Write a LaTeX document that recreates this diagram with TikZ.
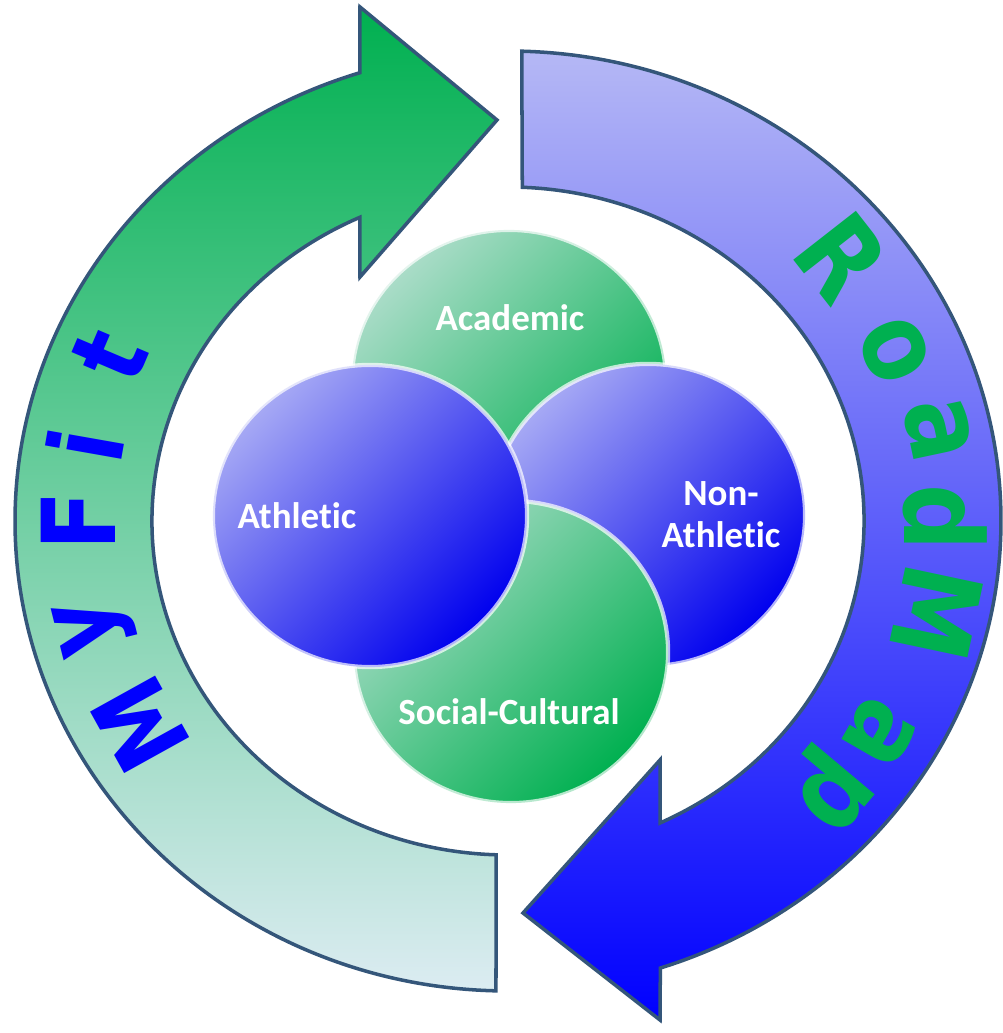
\documentclass[tikz,border=0pt]{standalone}
\usepackage{fontspec}
\usepackage{tikz}
\usetikzlibrary{shapes.geometric}

\newfontfamily\arcfont{DejaVu Sans}[FakeStretch=0.85]
\newfontfamily\ballfont{Carlito}[Ligatures=NoCommon]

\definecolor{arrowgreen}{RGB}{0,176,80}
\definecolor{midgreen}{RGB}{88,192,144}
\definecolor{tailgreen}{RGB}{220,236,242}
\definecolor{arrowblue}{RGB}{0,0,255}
\definecolor{midblue}{RGB}{96,100,243}
\definecolor{tailblue}{RGB}{181,184,245}
\definecolor{rimline}{RGB}{52,86,122}
\definecolor{lightball}{RGB}{166,169,244}
\definecolor{midball}{RGB}{62,64,246}
\definecolor{darkball}{RGB}{0,0,238}
\definecolor{lightgball}{RGB}{170,220,200}
\definecolor{midgball}{RGB}{80,192,140}
\definecolor{darkgball}{RGB}{0,176,80}

\begin{document}
\begin{tikzpicture}[x=0.01cm, y=0.01cm,
    band/.style={draw=rimline, line width=1pt, line join=miter},
    ball/.style={ellipse, minimum width=3.14cm, minimum height=3.02cm, inner sep=0pt,
        draw=white, draw opacity=0.7, line width=1.2pt},
    blueball/.style={ball, top color=lightball, middle color=midball, bottom color=darkball, shading angle=45},
    greenball/.style={ball, top color=lightgball, middle color=midgball, bottom color=darkgball, shading angle=45},
    balltext/.style={text=white, align=center, inner sep=0pt,
        font=\ballfont\bfseries\fontsize{10.5}{12}\selectfont},
    arcletter/.style={inner sep=0pt, font=\arcfont\bfseries\fontsize{29}{29}\selectfont}]
    \useasboundingbox (0,0) rectangle (1002,1033);
    \coordinate (c) at (508,512);

    % MyFit arrow
    \draw[band, top color=arrowgreen, middle color=midgreen, bottom color=tailgreen]
        ([shift={(c)}]268.6:493 and 470) arc[start angle=268.6, end angle=107.5, x radius=493, y radius=470]
        -- (360,1026) -- (497,913) -- (360,756)
        -- ([shift={(c)}]114.6:356 and 334) arc[start angle=114.6, end angle=268.1, x radius=356, y radius=334]
        -- cycle;

    % RoadMap arrow
    \draw[band, top color=tailblue, middle color=midblue, bottom color=arrowblue]
        ([shift={(c)}]88.4:493 and 470) arc[start angle=88.4, end angle=-72, x radius=493, y radius=470]
        -- (660,13) -- (523,120) -- (660,273)
        -- ([shift={(c)}]-64.7:356 and 334) arc[start angle=-64.7, end angle=87.7, x radius=356, y radius=334]
        -- cycle;

    % letters on the arrows
    \foreach \ch/\x/\y/\rot [count=\k] in {M/140/308/119, y/95/408/104, F/78/512/90, i/85/588/80, t/110/678/67}
        \node[arcletter, text=arrowblue, rotate=\rot] (myfit\k) at (\x,\y) {\ch};
    \foreach \ch/\x/\y/\rot [count=\k] in {R/842/776/-52, o/895/683/-66, a/938/603/-78, d/945/515/-90,
                                          M/937/420/-102, a/880/300/-120, p/828/245/-130}
        \node[arcletter, text=arrowgreen, rotate=\rot, font=\arcfont\bfseries\fontsize{31}{31}\selectfont] (roadmap\k) at (\x,\y) {\ch};

    % the four circles
    \node[greenball] (academic) at (509,652) {};
    \node[blueball] (nonathletic) at (648,518) {};
    \node[greenball] (social) at (511,381) {};
    \node[blueball] (athletic) at (370,517) {};

    \node[balltext] (academiclabel) at (510,715) {Academic};
    \node[balltext] (nonathleticlabel) at (721,518) {Non-\\Athletic};
    \node[balltext] (sociallabel) at (509,321) {Social-Cultural};
    \node[balltext] (athleticlabel) at (297,517) {Athletic};
\end{tikzpicture}
\end{document}
